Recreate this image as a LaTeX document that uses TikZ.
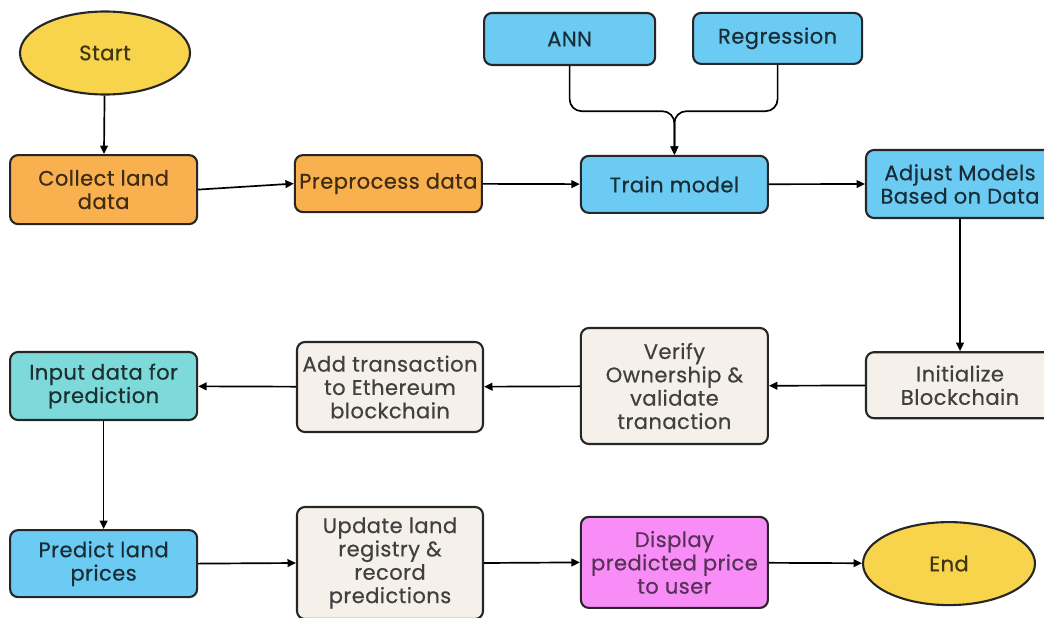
\documentclass[tikz,border=0pt]{standalone}
\usepackage{fontspec}
\setmainfont{Poppins}[LetterSpace=2,FakeBold=0.5]
\usetikzlibrary{shapes.geometric,arrows.meta}
\definecolor{startyellow}{HTML}{F8D44C}
\definecolor{landorange}{HTML}{F9B04E}
\definecolor{modelblue}{HTML}{6CCBF2}
\definecolor{inputteal}{HTML}{7ED9DA}
\definecolor{chainbeige}{HTML}{F5F1EA}
\definecolor{showpink}{HTML}{F98DF8}
\begin{document}
\begin{tikzpicture}[
    >={Triangle[length=6pt,width=5.5pt]},
    block/.style={draw=black!85,line width=1.5pt,rounded corners=0.2cm,align=center,
        inner sep=0pt,font=\fontsize{15}{16.6}\selectfont},
    terminal/.style={block,ellipse,fill=startyellow,text=startyellow!25!black},
    landbox/.style={block,fill=landorange,text=landorange!25!black},
    modelbox/.style={block,fill=modelblue,text=modelblue!22!black},
    inputbox/.style={block,fill=inputteal,text=inputteal!22!black},
    chainbox/.style={block,fill=chainbeige,text=black!75},
    showbox/.style={block,fill=showpink,text=showpink!35!black},
    flow/.style={line width=1.2pt,->}
]
    \useasboundingbox (0,0) rectangle (26.1,-15.45);
    \clip (0,0) rectangle (26.1,-15.45);
    %% top row
    \node[terminal,minimum width=4.25cm,minimum height=2.075cm] (start) at (2.625,-1.325) {Start};
    \node[landbox,minimum width=4.675cm,minimum height=1.725cm] (collect) at (2.59,-4.74) {Collect land\\data};
    \node[landbox,minimum width=4.675cm,minimum height=1.425cm] (preprocess) at (9.71,-4.59) {Preprocess data};
    \node[modelbox,minimum width=4.275cm,minimum height=1.3cm] (ann) at (14.24,-0.975) {ANN};
    \node[modelbox,minimum width=4.225cm,minimum height=1.275cm] (regression) at (19.44,-0.96) {Regression};
    \node[modelbox,minimum width=4.675cm,minimum height=1.425cm] (train) at (16.86,-4.61) {Train model};
    \node[modelbox,minimum width=4.7cm,minimum height=1.7cm] (adjust) at (24.0,-4.6) {Adjust Models\\Based on Data};
    %% middle row
    \node[chainbox,minimum width=4.7cm,minimum height=1.65cm] (initialize) at (24.0,-9.63) {Initialize\\Blockchain};
    \node[chainbox,minimum width=4.675cm,minimum height=2.9cm] (verify) at (16.86,-9.65) {Verify\\Ownership \&\\validate\\tranaction};
    \node[chainbox,minimum width=4.65cm,minimum height=2.25cm] (addtx) at (9.75,-9.675) {Add transaction\\to Ethereum\\blockchain};
    \node[inputbox,minimum width=4.675cm,minimum height=1.7cm] (input) at (2.59,-9.65) {Input data for\\prediction};
    %% bottom row
    \node[modelbox,minimum width=4.675cm,minimum height=1.675cm] (predict) at (2.59,-14.09) {Predict land\\prices};
    \node[chainbox,minimum width=4.65cm,minimum height=2.8cm] (update) at (9.75,-14.075) {Update land\\registry \&\\record\\predictions};
    \node[showbox,minimum width=4.675cm,minimum height=2.275cm] (display) at (16.86,-14.06) {Display\\predicted price\\to user};
    \node[terminal,minimum width=4.3cm,minimum height=2.075cm] (finish) at (23.725,-14.09) {End};
    %% models merge into training
    \coordinate (fork) at (16.86,-2.78);
    \draw[flow,rounded corners=0.3cm] (ann.south) |- (fork) -- (train.north);
    \draw[flow,rounded corners=0.3cm] (regression.south) |- (fork) -- (train.north);
    %% flow
    \draw[flow] (start) -- (collect);
    \draw[flow] (collect.east) -- (preprocess.west);
    \draw[flow] (preprocess) -- (train);
    \draw[flow] (train) -- (adjust.west);
    \draw[flow] (adjust) -- (initialize);
    \draw[flow] (initialize) -- (verify);
    \draw[flow] (verify) -- (addtx);
    \draw[flow] (addtx) -- (input);
    \draw[flow] (input) -- (predict);
    \draw[flow] (predict.east) -- (update.west);
    \draw[flow] (update.east) -- (display.west);
    \draw[flow] (display) -- (finish);
\end{tikzpicture}
\end{document}
